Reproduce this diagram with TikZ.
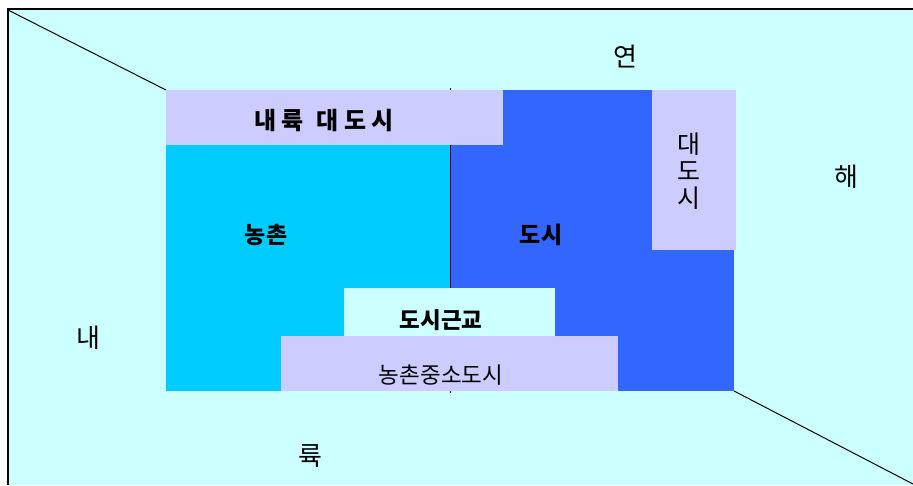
\documentclass[tikz,border=0pt]{standalone}
\usepackage{fontspec}
\newfontfamily\kr{Noto Sans CJK KR}
\newfontfamily\krsp{Noto Sans CJK KR}[LetterSpace=22]
\definecolor{sea}{HTML}{CCFFFF}
\definecolor{rural}{HTML}{00CCFF}
\definecolor{urban}{HTML}{3366FF}
\definecolor{lav}{HTML}{CCCCFF}
\begin{document}
\begin{tikzpicture}[x=1pt,y=-1pt,
  lbl/.style={font=\kr\fontsize{26}{30}\selectfont,inner sep=0pt},
  blbl/.style={font=\kr\bfseries\fontsize{23}{27}\selectfont,inner sep=0pt},
  boxr/.style={inner sep=0pt,outer sep=0pt}]
\useasboundingbox (0,0) rectangle (913,485);
\fill[white] (0,0) rectangle (913,485);
\fill[sea] (8,9) rectangle (913,485);
\draw[line width=1.6pt] (8,485) -- (8,9) -- (913,9);
% regions
\fill[rural] (166,145) rectangle (450,391);
\fill[urban] (450,90) rectangle (734,391);
\coordinate (vt) at (450,88);
\coordinate (vb) at (450,393);
\draw[line width=1pt] (vt) -- (vb);
\node[boxr,fill=lav,minimum width=337,minimum height=55,anchor=north west] (inland) at (166,90) {};
\node[inner sep=0pt,font=\krsp\bfseries\fontsize{24}{28}\selectfont] at (324,121) {내륙\hspace{0.55em}대도시};
\node[boxr,fill=lav,minimum width=84,minimum height=160,anchor=north west] (metro) at (652,90) {};
\node[lbl,font=\kr\fontsize{25}{27}\selectfont,align=center] at (689,171) {대\\도\\시};
\node[boxr,fill=sea,minimum width=211,minimum height=48,anchor=north west] (suburb) at (344,288) {};
\node[boxr,fill=lav,minimum width=337,minimum height=55,anchor=north west] (small) at (281,336) {};
\node[blbl,font=\kr\bfseries\fontsize{22.5}{26}\selectfont] at (441,320) {도시근교};
\node[lbl,font=\kr\fontsize{22.5}{26}\selectfont] at (441,375) {농촌중소도시};
\node[blbl] at (266,235) {농촌};
\node[blbl] at (541,235) {도시};
% diagonals
\coordinate (tl) at (8,10);
\coordinate (br) at (913,484);
\draw[line width=1pt] (tl) -- (inland.north west);
\draw[line width=1pt] (734,391) -- (br);
% labels
\node[lbl] at (625,57) {연};
\node[lbl] at (846,177) {해};
\node[lbl] at (88,338) {내};
\node[lbl] at (310,456) {륙};
\end{tikzpicture}
\end{document}
